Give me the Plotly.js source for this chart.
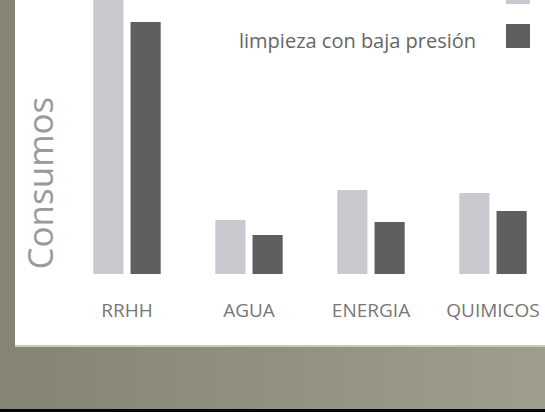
<!DOCTYPE html>
<html><head><meta charset="utf-8">
<script src="https://cdn.plot.ly/plotly-3.0.1.min.js"></script>
<style>
html,body{margin:0;padding:0;width:545px;height:412px;overflow:hidden;}
body{background:linear-gradient(to right,#858372,#9f9d8d);position:relative;}
#panel{position:absolute;left:15px;top:0;width:545px;height:345px;background:#fff;border-bottom:2px solid #cac8bc;}
#chart{position:absolute;left:0;top:0;width:545px;height:345px;}
#strip{position:absolute;left:0;top:409px;width:545px;height:3px;background:#050505;}
</style></head>
<body>
<div id="panel"><div id="chart"></div></div>
<div id="strip"></div>
<script>
var categories = ['RRHH', 'AGUA', 'ENERGIA', 'QUIMICOS'];
var seriesNames = ['limpieza normal', 'limpieza con baja presión'];
var normalValues = [110, 19.7, 30.7, 29.6];
var bajaPresionValues = [92.0, 14.2, 19.0, 23.0];
var seriesColors = ['#c9cacf', '#5f5f61'];
var yTitle = 'Consumos';

var traces = [
  {type: 'bar', x: categories, y: normalValues, name: seriesNames[0], marker: {color: seriesColors[0]}, hoverinfo: 'none'},
  {type: 'bar', x: categories, y: bajaPresionValues, name: seriesNames[1], marker: {color: seriesColors[1]}, hoverinfo: 'none'}
];

var legendRows = [
  {ty: 1.05, y0: 0.9854, y1: 1.073},
  {ty: 0.854, y0: 0.8248, y1: 0.9124}
];
var annotations = [{
  text: yTitle, xref: 'paper', yref: 'paper', x: 0, y: 0.33, xanchor: 'center', yanchor: 'middle',
  xshift: -26, textangle: -90, showarrow: false,
  font: {family: 'Open Sans', size: 35, color: '#9a9a9a'}
}];
var shapes = [];
seriesNames.forEach(function (n, i) {
  annotations.push({
    text: n, xref: 'paper', yref: 'paper', x: 0.844, y: legendRows[i].ty, xanchor: 'right', yanchor: 'middle',
    showarrow: false, font: {family: 'Open Sans', size: 20, color: '#666666'}
  });
  shapes.push({
    type: 'rect', xref: 'paper', yref: 'paper', x0: 0.9016, x1: 0.9508, y0: legendRows[i].y0, y1: legendRows[i].y1,
    fillcolor: seriesColors[i], line: {width: 0}
  });
});

var layout = {
  width: 545, height: 345,
  margin: {l: 51, r: 6, t: 0, b: 71},
  paper_bgcolor: 'rgba(0,0,0,0)', plot_bgcolor: 'rgba(0,0,0,0)',
  barmode: 'group', bargap: 0.39, bargroupgap: 0.19,
  showlegend: false,
  xaxis: {type: 'category', range: [-0.5, 3.5], showgrid: false, showline: false, zeroline: false,
    ticks: 'outside', ticklen: 19, tickcolor: 'rgba(0,0,0,0)',
    tickfont: {family: 'Open Sans', size: 19, color: '#777777'}, fixedrange: true},
  yaxis: {range: [0, 100], showgrid: false, showline: false, zeroline: false, showticklabels: false, ticks: '', fixedrange: true},
  annotations: annotations,
  shapes: shapes
};
Plotly.newPlot('chart', traces, layout, {displayModeBar: false, staticPlot: true});
</script>
</body></html>
